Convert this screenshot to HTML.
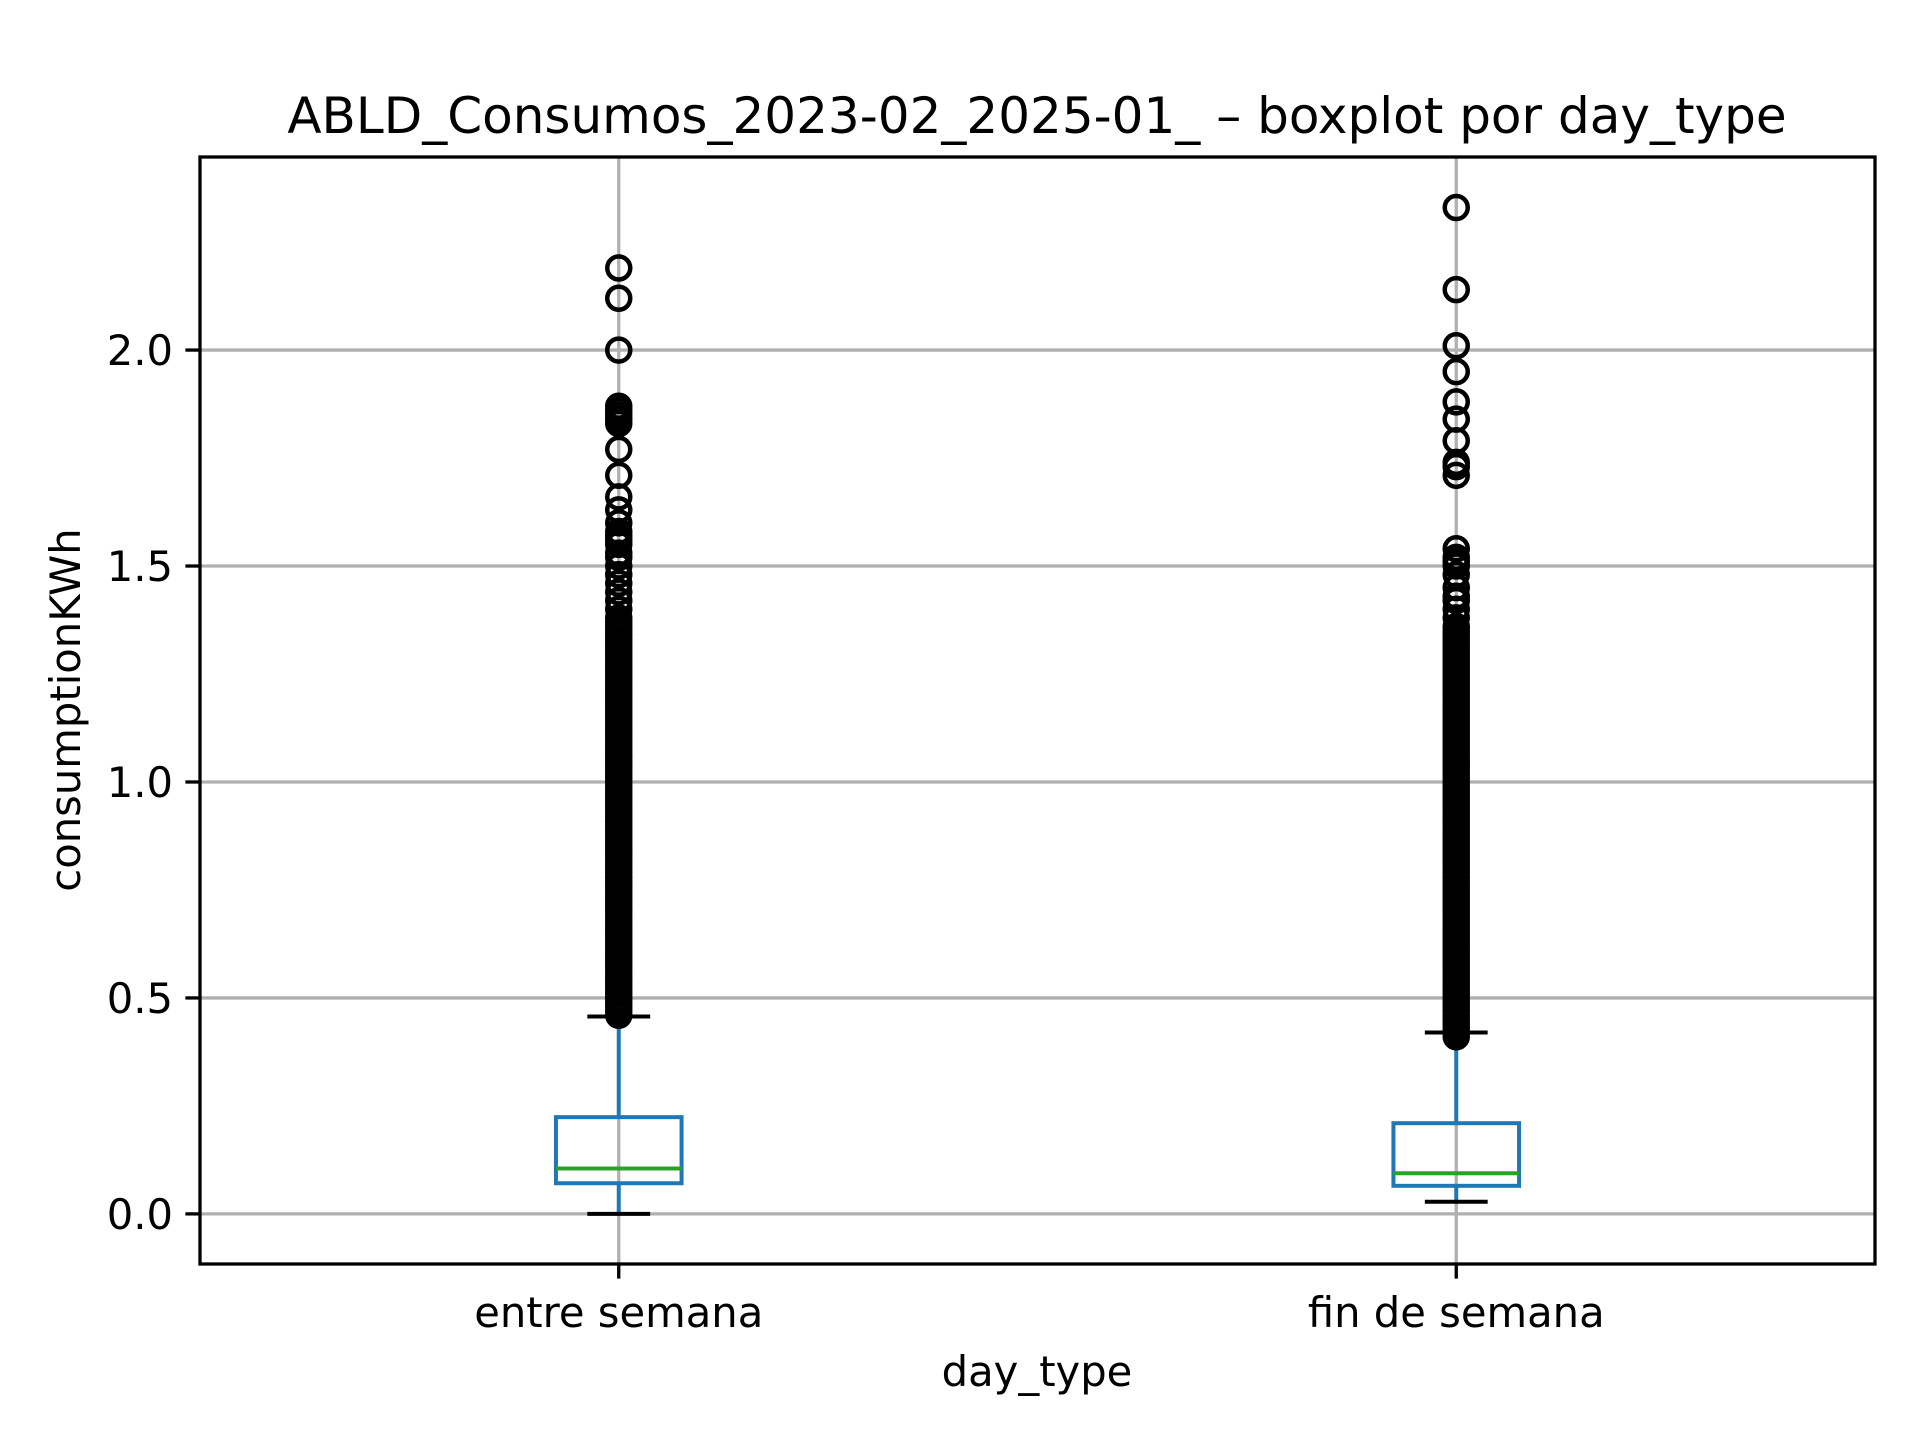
<!DOCTYPE html>
<html><head><meta charset="utf-8"><style>
html,body{margin:0;padding:0;background:#fff;}
svg{display:block;font-family:"DejaVu Sans","Liberation Sans",sans-serif;}
</style></head><body>
<svg id="chart" width="1920" height="1440" viewBox="0 0 1920 1440" xmlns="http://www.w3.org/2000/svg">
<rect width="1920" height="1440" fill="#fff"/>
<g id="grid"></g><g id="marks"></g><g id="axes"></g>
<text x="1037" y="133" font-size="50" text-anchor="middle" fill="#000">ABLD_Consumos_2023-02_2025-01_ – boxplot por day_type</text>
<text x="1037" y="1386" font-size="41.7" text-anchor="middle" fill="#000">day_type</text>
<text x="0" y="0" font-size="41.7" text-anchor="middle" fill="#000" transform="translate(80,710) rotate(-90)">consumptionKWh</text>
</svg>
<script>
const categories = ["entre semana", "fin de semana"];
const q1 = [0.071, 0.065];
const medians = [0.105, 0.094];
const q3 = [0.224, 0.210];
const whiskerLow = [0.0, 0.028];
const whiskerHigh = [0.457, 0.420];
const yTicks = [0.0, 0.5, 1.0, 1.5, 2.0];
const yTickLabels = ["0.0", "0.5", "1.0", "1.5", "2.0"];
const outliersEntre = [0.46,0.47,0.48,0.49,0.50,0.51,0.52,0.53,0.54,0.55,0.56,0.57,0.58,0.59,0.60,0.61,0.62,0.63,0.64,0.65,0.66,0.67,0.68,0.69,0.70,0.71,0.72,0.73,0.74,0.75,0.76,0.77,0.78,0.79,0.80,0.81,0.82,0.83,0.84,0.85,0.86,0.87,0.88,0.89,0.90,0.91,0.92,0.93,0.94,0.95,0.96,0.97,0.98,0.99,1.00,1.01,1.02,1.03,1.04,1.05,1.06,1.07,1.08,1.09,1.10,1.11,1.12,1.13,1.14,1.15,1.16,1.17,1.18,1.19,1.20,1.21,1.22,1.23,1.24,1.25,1.26,1.27,1.28,1.29,1.30,1.31,1.32,1.33,1.34,1.35,1.36,1.37,1.38,1.40,1.42,1.44,1.46,1.48,1.50,1.52,1.53,1.55,1.56,1.57,1.58,1.60,1.63,1.66,1.71,1.77,1.83,1.84,1.85,1.86,1.87,2.00,2.12,2.19];
const outliersFin = [0.41,0.42,0.43,0.44,0.45,0.46,0.47,0.48,0.49,0.50,0.51,0.52,0.53,0.54,0.55,0.56,0.57,0.58,0.59,0.60,0.61,0.62,0.63,0.64,0.65,0.66,0.67,0.68,0.69,0.70,0.71,0.72,0.73,0.74,0.75,0.76,0.77,0.78,0.79,0.80,0.81,0.82,0.83,0.84,0.85,0.86,0.87,0.88,0.89,0.90,0.91,0.92,0.93,0.94,0.95,0.96,0.97,0.98,0.99,1.00,1.01,1.02,1.03,1.04,1.05,1.06,1.07,1.08,1.09,1.10,1.11,1.12,1.13,1.14,1.15,1.16,1.17,1.18,1.19,1.20,1.21,1.22,1.23,1.24,1.25,1.26,1.27,1.28,1.29,1.30,1.31,1.32,1.33,1.34,1.35,1.36,1.38,1.40,1.42,1.43,1.45,1.48,1.50,1.51,1.52,1.54,1.71,1.73,1.74,1.79,1.84,1.88,1.95,2.01,2.14,2.33];
const outliers = [outliersEntre, outliersFin];

const L=200, R=1875, T=157, B=1264;
const yMin=-0.116, yMax=2.447;
const y = v => B - (v - yMin) / (yMax - yMin) * (B - T);
const x = i => L + (i + 1 - 0.5) / 2 * (R - L);
const NS="http://www.w3.org/2000/svg";
function mk(parent, tag, attrs){const e=document.createElementNS(NS,tag);for(const k in attrs)e.setAttribute(k,attrs[k]);parent.appendChild(e);return e;}
const grid=document.getElementById('grid'), marks=document.getElementById('marks'), axes=document.getElementById('axes');

yTicks.forEach((t,i)=>{
  const g=mk(grid,'line',{x1:L,x2:R,y1:y(t),y2:y(t),stroke:'#b0b0b0','stroke-width':3.3});
  
  
  const tk=mk(axes,'line',{x1:L-14.6,x2:L,y1:y(t),y2:y(t),stroke:'#000','stroke-width':3.3});
  
  
  const lb=mk(axes,'text',{x:L-27,y:y(t)+15,'font-size':41.7,'text-anchor':'end',fill:'#000'});
  lb.textContent=yTickLabels[i];
  
  
});
categories.forEach((c,i)=>{
  const g=mk(grid,'line',{x1:x(i),x2:x(i),y1:T,y2:B,stroke:'#b0b0b0','stroke-width':3.3});
  
  
  const tk=mk(axes,'line',{x1:x(i),x2:x(i),y1:B,y2:B+14.6,stroke:'#000','stroke-width':3.3});
  
  
  const lb=mk(axes,'text',{x:x(i),y:1327,'font-size':41.7,'text-anchor':'middle',fill:'#000'});
  lb.textContent=c;
  
  

  const cx=x(i), hw=0.15*(R-L)/2, cw=hw/2;
  const w1=mk(marks,'line',{x1:cx,x2:cx,y1:y(q3[i]),y2:y(whiskerHigh[i]),stroke:'#1f77b4','stroke-width':4});
  
  
  const w2=mk(marks,'line',{x1:cx,x2:cx,y1:y(q1[i]),y2:y(whiskerLow[i]),stroke:'#1f77b4','stroke-width':4});
  
  
  const bx=mk(marks,'rect',{x:cx-hw/2,y:y(q3[i]),width:hw,height:y(q1[i])-y(q3[i]),fill:'none',stroke:'#1f77b4','stroke-width':4});
  
  
  const md=mk(marks,'line',{x1:cx-hw/2,x2:cx+hw/2,y1:y(medians[i]),y2:y(medians[i]),stroke:'#2ca02c','stroke-width':4});
  
  
  const c1=mk(marks,'line',{x1:cx-cw/2,x2:cx+cw/2,y1:y(whiskerHigh[i]),y2:y(whiskerHigh[i]),stroke:'#000','stroke-width':4});
  
  
  const c2=mk(marks,'line',{x1:cx-cw/2,x2:cx+cw/2,y1:y(whiskerLow[i]),y2:y(whiskerLow[i]),stroke:'#000','stroke-width':4});
  
  
  outliers[i].forEach(v=>{
    const o=mk(marks,'circle',{cx:cx,cy:y(v),r:11.5,fill:'none',stroke:'#000','stroke-width':4.5});
    
    
  });
});
const frame=mk(axes,'rect',{x:L,y:T,width:R-L,height:B-T,fill:'none',stroke:'#000','stroke-width':3.3});


</script>
</body></html>
